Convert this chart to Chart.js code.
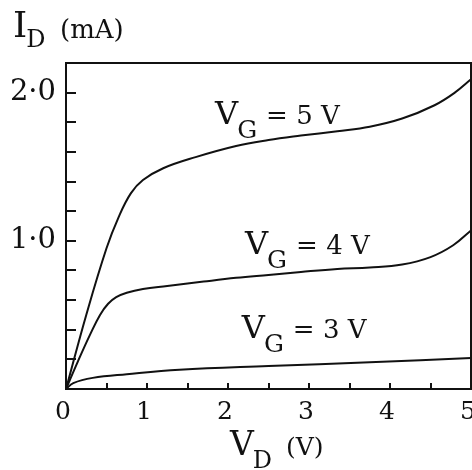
<!DOCTYPE html>
<html>
<head>
<meta charset="utf-8">
<title>I_D vs V_D</title>
<script src="https://cdn.jsdelivr.net/npm/chart.js@4.4.0/dist/chart.umd.min.js"></script>
<style>
    html, body { margin: 0; padding: 0; background: #fff; }
    canvas { display: block; }
</style>
</head>
<body>
<canvas id="ivChart" width="472" height="470"></canvas>
<script>
// drain voltage (V) and drain current (mA)
const vdG5 = [0, 0.25, 0.5, 0.65, 0.8, 0.95, 1.2, 1.6, 2.1, 2.5, 2.9, 3.35, 3.75, 4.15, 4.55, 4.8, 5.0];
const idG5 = [0, 0.50, 0.95, 1.16, 1.32, 1.41, 1.49, 1.565, 1.64, 1.68, 1.71, 1.74, 1.77, 1.825, 1.915, 2.0, 2.09];

const vdG4 = [0, 0.15, 0.3, 0.42, 0.52, 0.62, 0.75, 0.95, 1.25, 1.7, 2.1, 2.5, 2.9, 3.35, 3.75, 4.15, 4.5, 4.78, 5.0];
const idG4 = [0, 0.19, 0.37, 0.50, 0.575, 0.62, 0.65, 0.675, 0.695, 0.725, 0.75, 0.77, 0.79, 0.81, 0.82, 0.84, 0.89, 0.97, 1.07];

const vdG3 = [0, 0.09, 0.33, 0.75, 1.4, 2.5, 3.75, 5.0];
const idG3 = [0, 0.04, 0.075, 0.10, 0.13, 0.155, 0.18, 0.21];

const gateLabels = ['5', '4', '3'];
const yTickLabels = { 1: '1·0', 2: '2·0' };
const xTickLabels = ['0', '1', '2', '3', '4', '5'];

const SERIF = '"DejaVu Serif", "Liberation Serif", serif';
const INK = '#111';

function toPoints(xs, ys) {
    return xs.map((x, i) => ({ x: x, y: ys[i] }));
}

function curve(xs, ys) {
    return {
        data: toPoints(xs, ys),
        borderColor: INK,
        borderWidth: 2,
        pointRadius: 0,
        fill: false,
        tension: 0.4
    };
}

// draws main letter + subscript + rest, starting at (x, baseline)
function subText(ctx, x, y, main, sub, rest, sizes, subDrop, gap) {
    ctx.font = sizes[0] + 'px ' + SERIF;
    ctx.fillText(main, x, y);
    x += ctx.measureText(main).width - 1;
    ctx.font = sizes[1] + 'px ' + SERIF;
    ctx.fillText(sub, x, y + subDrop);
    x += ctx.measureText(sub).width + gap;
    if (rest) {
        ctx.font = sizes[2] + 'px ' + SERIF;
        ctx.fillText(rest, x, y);
    }
}

const framePlugin = {
    id: 'frame',
    afterDatasetsDraw(chart) {
        const { ctx, chartArea, scales } = chart;
        const xs = scales.x, ys = scales.y;
        ctx.save();
        ctx.strokeStyle = INK;
        ctx.lineWidth = 2;
        ctx.strokeRect(chartArea.left, chartArea.top, chartArea.right - chartArea.left, chartArea.bottom - chartArea.top);

        // inward ticks
        ctx.beginPath();
        ys.ticks.forEach(t => {
            if (t.value <= ys.min || t.value >= ys.max) return;
            const py = Math.round(ys.getPixelForValue(t.value));
            ctx.moveTo(chartArea.left, py);
            ctx.lineTo(chartArea.left + 10, py);
        });
        xs.ticks.forEach(t => {
            if (t.value <= xs.min || t.value >= xs.max) return;
            const px = Math.round(xs.getPixelForValue(t.value));
            ctx.moveTo(px, chartArea.bottom);
            ctx.lineTo(px, chartArea.bottom - 6);
        });
        ctx.stroke();
        ctx.restore();
    },
    afterDraw(chart) {
        const { ctx, scales } = chart;
        const xs = scales.x, ys = scales.y;
        ctx.save();
        ctx.fillStyle = INK;
        ctx.textBaseline = 'alphabetic';
        ctx.textAlign = 'left';

        // axis titles
        subText(ctx, 13, 37, 'I', 'D', '', [36, 24, 24], 10, 0);
        ctx.font = '26px ' + SERIF;
        ctx.fillText('(mA)', 60, 38);

        subText(ctx, 230, 455, 'V', 'D', '', [33, 24, 24], 13, 0);
        ctx.font = '25px ' + SERIF;
        ctx.fillText('(V)', 286, 455);

        // curve labels, anchored in data units
        const anchors = [[1.84, 1.79], [2.21, 0.91], [2.17, 0.345]];
        anchors.forEach((a, i) => {
            const px = xs.getPixelForValue(a[0]);
            const py = ys.getPixelForValue(a[1]);
            subText(ctx, px, py, 'V', 'G', '= ' + gateLabels[i] + ' V', [32, 25, 26], 14, 9);
        });
        ctx.restore();
    }
};

new Chart(document.getElementById('ivChart'), {
    type: 'line',
    data: {
        datasets: [curve(vdG5, idG5), curve(vdG4, idG4), curve(vdG3, idG3)]
    },
    options: {
        responsive: false,
        animation: false,
        events: [],
        layout: { padding: { top: 63, right: 1, left: 0, bottom: 0 } },
        plugins: {
            legend: { display: false },
            tooltip: { enabled: false },
            title: { display: false }
        },
        scales: {
            x: {
                type: 'linear',
                min: 0,
                max: 5,
                border: { display: false },
                grid: { display: false, drawTicks: false },
                afterFit: scale => {
                    scale.height = 81;
                    scale.paddingLeft = 0;
                    scale.paddingRight = 0;
                },
                ticks: {
                    stepSize: 0.5,
                    padding: 8,
                    labelOffset: -3,
                    maxRotation: 0,
                    autoSkip: false,
                    color: INK,
                    font: { family: SERIF, size: 25 },
                    callback: v => Number.isInteger(v) ? xTickLabels[v] : ''
                }
            },
            y: {
                min: 0,
                max: 2.2,
                border: { display: false },
                grid: { display: false, drawTicks: false },
                afterFit: scale => {
                    scale.width = 66;
                    scale.paddingTop = 0;
                    scale.paddingBottom = 0;
                },
                ticks: {
                    stepSize: 0.2,
                    padding: 10,
                    autoSkip: false,
                    color: INK,
                    font: { family: SERIF, size: 29 },
                    callback: v => {
                        const r = Math.round(v);
                        return Math.abs(v - r) < 1e-6 && yTickLabels[r] ? yTickLabels[r] : '';
                    }
                }
            }
        }
    },
    plugins: [framePlugin]
});
</script>
</body>
</html>
